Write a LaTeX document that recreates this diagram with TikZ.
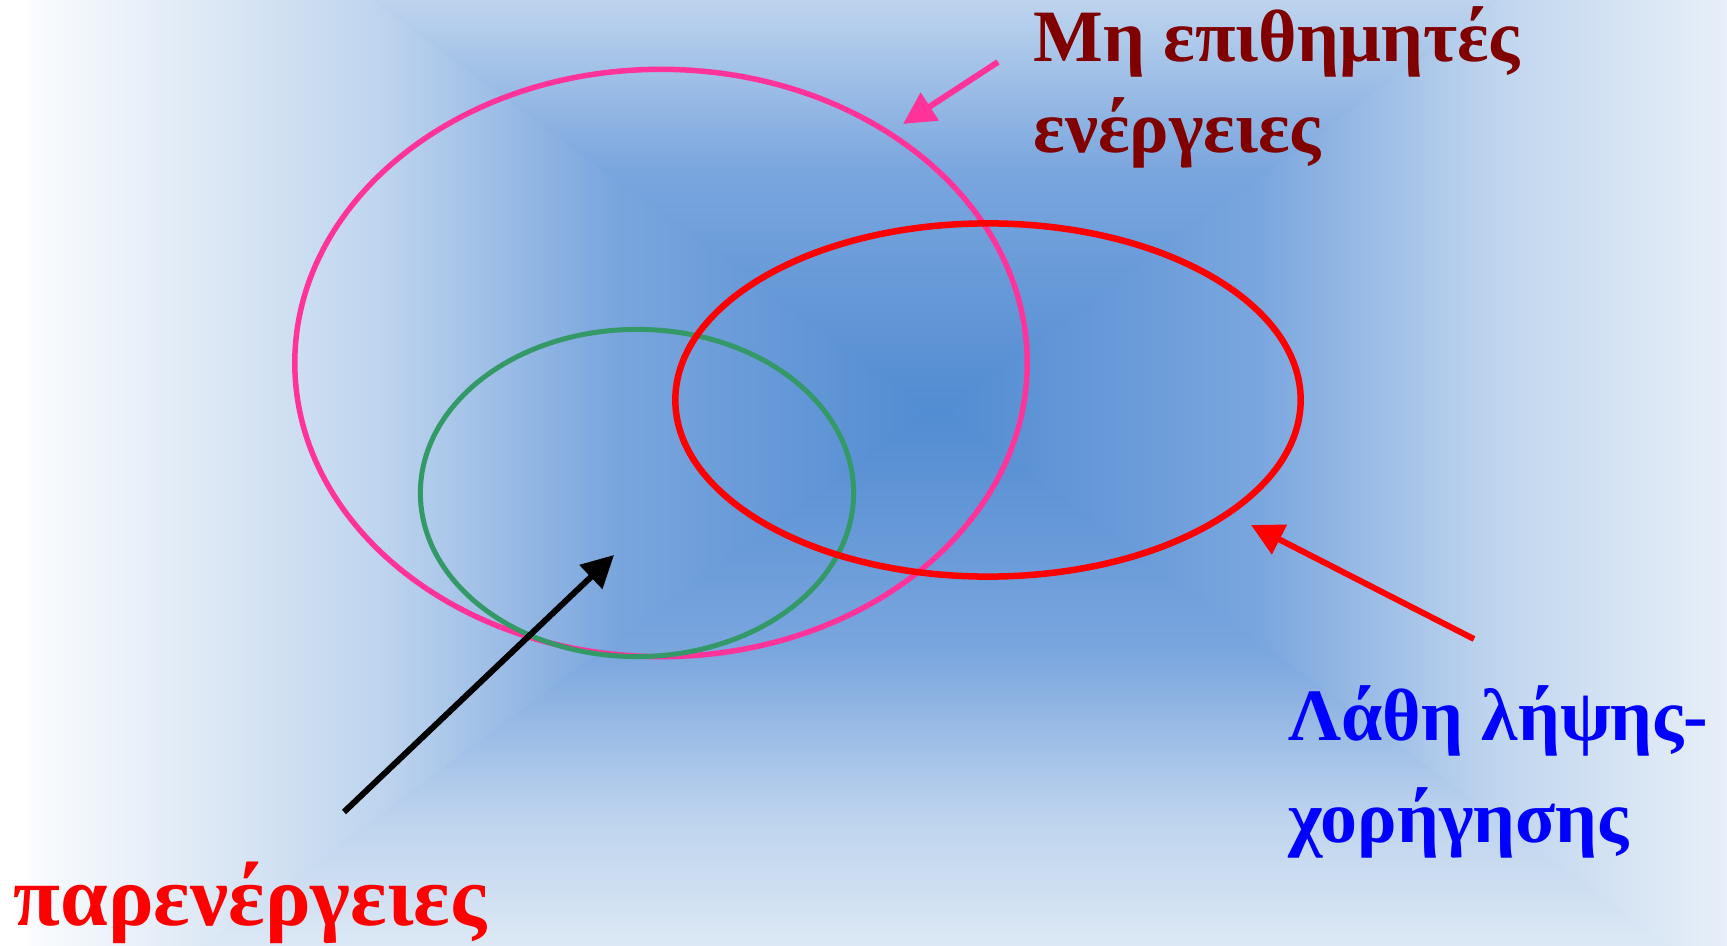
\documentclass[tikz,border=0pt]{standalone}
\usepackage{fontspec}
\setmainfont{Liberation Serif}
\usetikzlibrary{
  arrows.meta,
  shapes.geometric
}
\definecolor{GlowCore}{RGB}{82,140,210}
\definecolor{GlowMid}{RGB}{122,166,222}
\definecolor{GlowSoft}{RGB}{190,212,238}
\definecolor{GlowPale}{RGB}{220,232,245}
\definecolor{GlowEdge}{RGB}{250,252,254}
\definecolor{PinkRing}{RGB}{255,51,153}
\definecolor{GreenRing}{RGB}{51,153,102}
\definecolor{RedRing}{RGB}{255,0,0}
\definecolor{DeepMaroon}{RGB}{128,0,0}
\definecolor{PureBlue}{RGB}{0,0,255}
\pgfdeclareverticalshading{glow}{100bp}{color(0bp)=(GlowCore); color(25bp)=(GlowCore); color(42.83bp)=(GlowMid); color(55.46bp)=(GlowSoft); color(64.82bp)=(GlowPale); color(75bp)=(GlowEdge); color(100bp)=(GlowEdge)}
\tikzset{
  ring/.style={ellipse,inner sep=0pt,line width=0.055cm},
  tagtext/.style={anchor=base west,inner sep=0pt,font=\bfseries\fontsize{21}{25}\selectfont},
  bigtag/.style={anchor=base west,inner sep=0pt,font=\bfseries\fontsize{24.3}{29}\selectfont},
  pointer/.style={-{Triangle[length=0.32cm,width=0.32cm]},line width=0.06cm}
}
\begin{document}
\begin{tikzpicture}[x=0.01cm,y=-0.01cm]
\useasboundingbox (0,0) rectangle (1727,946);
% background glow
\begin{scope}
\clip (0,0) rectangle (1727,946);
\shade[shading=glow,shading angle=90] (936,410) -- (28,-263) -- (28,1083) -- cycle;
\shade[shading=glow,shading angle=-90] (936,410) -- (1844,-263) -- (1844,1083) -- cycle;
\shade[shading=glow,shading angle=0] (926,410) -- (18,-263) -- (1854,-263) -- (946,410) -- cycle;
\shade[shading=glow,shading angle=180] (926,410) -- (18,1083) -- (1854,1083) -- (946,410) -- cycle;
\end{scope}
% sets
\node[ring,draw=PinkRing,minimum width=7.32cm,minimum height=5.87cm] (unwanted) at (661,363) {};
\node[ring,draw=GreenRing,line width=0.05cm,minimum width=4.33cm,minimum height=3.27cm] (sideeff) at (637,493) {};
\node[ring,draw=RedRing,line width=0.065cm,minimum width=6.25cm,minimum height=3.53cm] (errors) at (988,400) {};
% labels
\node[tagtext,text=DeepMaroon] (unwantedA) at (1033,62) {Μη επιθημητές};
\node[tagtext,text=DeepMaroon] (unwantedB) at (1033,153) {ενέργειες};
\node[tagtext,text=PureBlue] (errorsA) at (1288,740) {Λάθη λήψης-};
\node[tagtext,text=PureBlue] (errorsB) at (1288,842) {χορήγησης};
\node[bigtag,text=RedRing] (sideefftxt) at (13,925) {παρενέργειες};
% pointers
\coordinate (unwantedtail) at (998,62);
\coordinate (unwantedtip) at (903,124);
\coordinate (errorstail) at (1474,639);
\coordinate (errorstip) at (1251,525);
\coordinate (sidetail) at (344,812);
\coordinate (sidetip) at (614,555);
\draw[pointer,draw=PinkRing] (unwantedtail) -- (unwantedtip);
\draw[pointer,draw=RedRing] (errorstail) -- (errorstip);
\draw[pointer,draw=black] (sidetail) -- (sidetip);
\end{tikzpicture}
\end{document}
